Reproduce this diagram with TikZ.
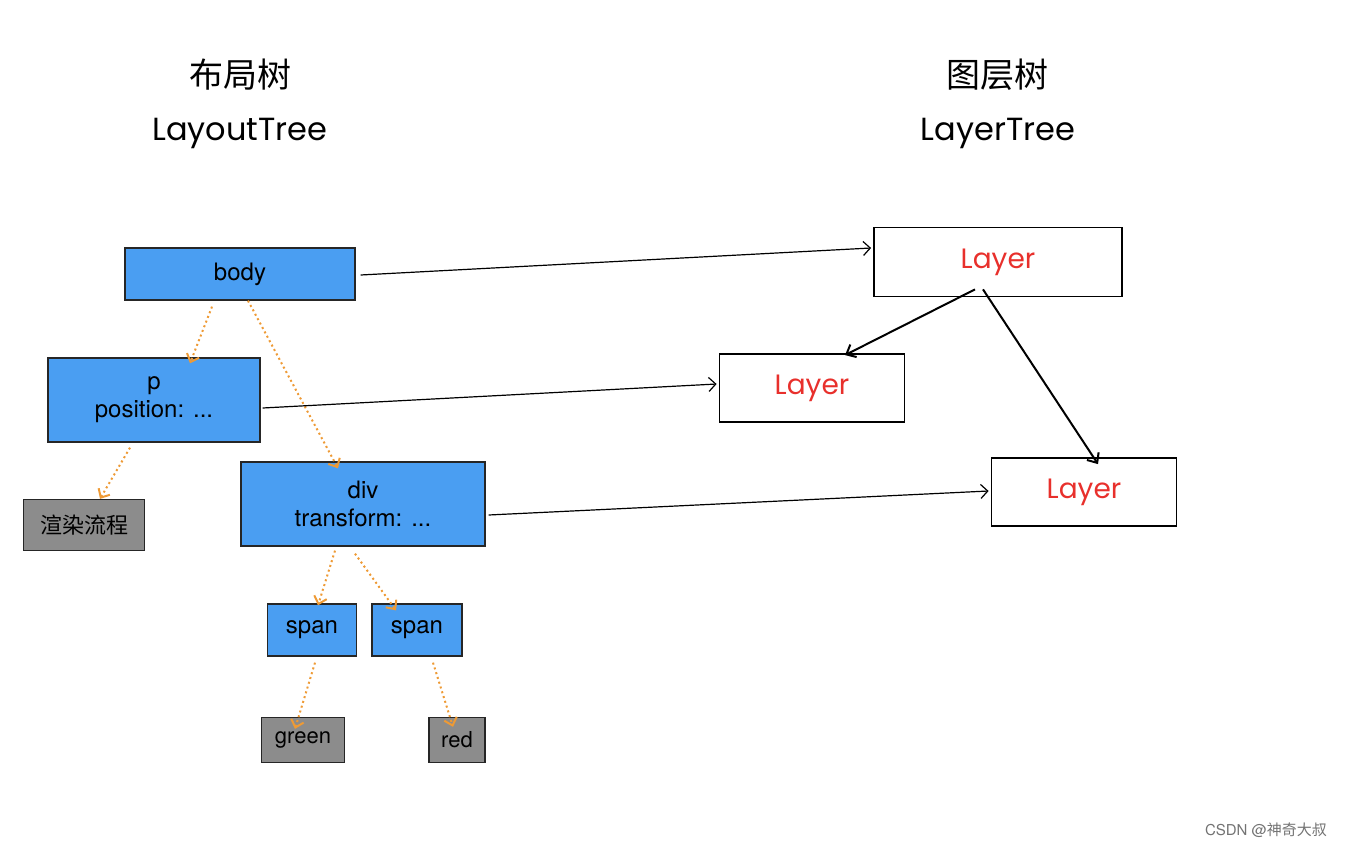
\documentclass[tikz,border=0pt]{standalone}
\usepackage{fontspec}
\setmainfont{TeX Gyre Heros}
\newfontfamily\cjk{Noto Sans CJK SC}
\newfontfamily\hand{Poppins}
\usetikzlibrary{arrows.meta}
\definecolor{boxblue}{HTML}{4A9EF2}
\definecolor{boxgray}{HTML}{8C8C8C}
\definecolor{dotorange}{HTML}{EE9A35}
\definecolor{layerred}{HTML}{E8302C}
\begin{document}
\begin{tikzpicture}[x=1pt,y=-1pt,
  blue box/.style={draw=black!85,line width=1.3pt,fill=boxblue,inner sep=0pt,
    font=\fontsize{24}{28}\selectfont,align=center},
  gray box/.style={draw=black!85,line width=1.3pt,fill=boxgray,inner sep=0pt,
    font=\fontsize{22}{26}\selectfont},
  layer box/.style={draw=black,line width=1.8pt,inner sep=0pt,text=layerred,
    font=\hand\fontsize{28}{32}\selectfont},
  title/.style={font=\cjk\fontsize{34}{38}\selectfont},
  subtitle/.style={font=\hand\fontsize{32}{36}\selectfont},
  tree/.style={dotorange,line width=2pt,dash pattern=on 2pt off 3pt,
    -{Straight Barb[length=7pt,width=13pt,line width=2pt]}},
  link/.style={line width=1.2pt,-{Straight Barb[length=7pt,width=14pt,line width=1.2pt]}},
  child/.style={line width=2pt,-{Straight Barb[length=8pt,width=14pt,line width=2pt]}}]
\useasboundingbox (0,0) rectangle (1350,848);

\node[title] (t1) at (240,75) {布局树};
\node[subtitle] (s1) at (240,133) {LayoutTree};
\node[title] (t2) at (997,75) {图层树};
\node[subtitle] (s2) at (998,133) {LayerTree};

\node[blue box,minimum width=230,minimum height=52] (body) at (240,274) {body};
\node[blue box,minimum width=212,minimum height=84] (p) at (154,400) {p\\position: ...};
\node[gray box,minimum width=121,minimum height=51] (render) at (84,525) {\cjk 渲染流程};
\node[blue box,minimum width=244,minimum height=84] (div) at (363,504) {div\\transform: ...};
\node[blue box,minimum width=89,minimum height=52] (span1) at (312,630) {span};
\node[blue box,minimum width=90,minimum height=52] (span2) at (417,630) {span};
\node[gray box,minimum width=83,minimum height=45] (green) at (303,740) {green};
\node[gray box,minimum width=56,minimum height=45] (red) at (457,740) {red};

\node[layer box,minimum width=248,minimum height=69] (l1) at (998,262) {Layer};
\node[layer box,minimum width=185,minimum height=68] (l2) at (812,388) {Layer};
\node[layer box,minimum width=185,minimum height=68] (l3) at (1084,492) {Layer};

\node[text=black!55,font=\fontsize{15}{18}\selectfont] (wm) at (1266,830) {CSDN @{\cjk 神奇大叔}};

\draw[tree] ([xshift=-28,yshift=-6]body.south) -- ([xshift=36,yshift=-6]p.north);
\draw[tree] ([xshift=8]body.south) -- ([xshift=-25,yshift=-7]div.north);
\draw[tree] ([xshift=-24,yshift=-5]p.south) -- ([xshift=16]render.north);
\draw[tree] ([xshift=-28,yshift=-4]div.south) -- ([xshift=6,yshift=-2]span1.north);
\draw[tree] ([xshift=-8,yshift=-7]div.south) -- ([xshift=-21,yshift=-7]span2.north);
\draw[tree] ([xshift=3,yshift=-6]span1.south) -- ([xshift=-8,yshift=-12]green.north);
\draw[tree] ([xshift=16,yshift=-6]span2.south) -- ([xshift=-4,yshift=-10]red.north);

\draw[link] ([xshift=5,yshift=-1]body.east) -- ([xshift=-2,yshift=14]l1.west);
\draw[link] ([xshift=2,yshift=-8]p.east) -- ([xshift=-2,yshift=4]l2.west);
\draw[link] ([xshift=3,yshift=-11]div.east) -- ([xshift=-2,yshift=1]l3.west);
\draw[child] ([xshift=-23,yshift=8]l1.south) -- ([xshift=33,yshift=-2]l2.north);
\draw[child] ([xshift=-15,yshift=8]l1.south) -- ([xshift=14,yshift=-7]l3.north);
\end{tikzpicture}
\end{document}
